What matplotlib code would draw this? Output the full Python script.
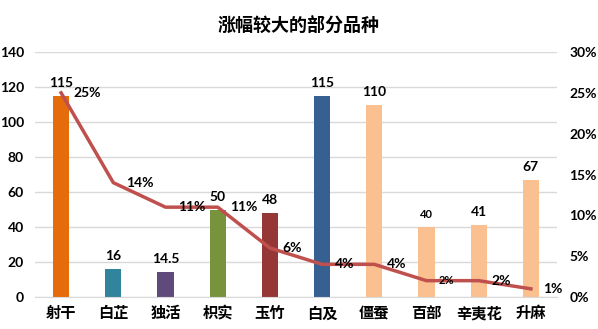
import matplotlib
matplotlib.use("Agg")
import matplotlib.pyplot as plt
from matplotlib.ticker import FuncFormatter

plt.rcParams['font.family'] = ['Noto Sans CJK SC', 'DejaVu Sans']
NUM_FONT = ['Lato', 'DejaVu Sans']

categories = ['射干', '白芷', '独活', '枳实', '玉竹', '白及', '僵蚕', '百部', '辛夷花', '升麻']
prices = [115, 16, 14.5, 50, 48, 115, 110, 40, 41, 67]
price_labels = ['115', '16', '14.5', '50', '48', '115', '110', '40', '41', '67']
growth = [25, 14, 11, 11, 6, 4, 4, 2, 2, 1]
bar_colors = ['#E46C0A', '#31849B', '#604A7B', '#77933C', '#953735', '#366092',
              '#FAC090', '#FAC090', '#FAC090', '#FAC090']
small_label = [False, False, False, False, False, False, False, True, False, False]

fig = plt.figure(figsize=(5.98, 3.29), dpi=100)
ax = fig.add_axes([35/598, 1 - 297/329, 522/598, 245/329])
ax2 = ax.twinx()

x = list(range(len(categories)))
ax.bar(x, prices, width=0.31, color=bar_colors, zorder=2)
ax.set_xlim(-0.5, len(categories) - 0.5)
ax.set_ylim(0, 140)
ax.set_yticks(range(0, 141, 20))
ax.grid(axis='y', color='#D9D9D9', linewidth=1, zorder=0)
ax.set_axisbelow(True)
for s in ['top', 'right', 'left']:
    ax.spines[s].set_visible(False)
ax.spines['bottom'].set_color('#D9D9D9')
ax.tick_params(axis='both', length=0)
ax.set_xticks(x)
ax.set_xticklabels(categories, fontsize=11, fontweight='bold')
ax.tick_params(axis='x', pad=6)
ax.tick_params(axis='y', pad=8)
for lbl in ax.get_yticklabels():
    lbl.set_fontweight('bold')
    lbl.set_fontsize(10)
    lbl.set_family(NUM_FONT)

for xi, v, t, sm in zip(x, prices, price_labels, small_label):
    ax.annotate(t, (xi, v), xytext=(0, 5), textcoords='offset points',
                ha='center', va='bottom', fontsize=8 if sm else 10,
                fontweight='bold', family=NUM_FONT)

ax2.plot(x, growth, color='#C0504D', linewidth=2.5, zorder=3)
ax2.set_ylim(0, 30)
ax2.set_yticks(range(0, 31, 5))
ax2.yaxis.set_major_formatter(FuncFormatter(lambda v, p: f"{int(v)}%"))
for s in ['top', 'right', 'left', 'bottom']:
    ax2.spines[s].set_visible(False)
ax2.tick_params(axis='y', length=0, pad=9)
for lbl in ax2.get_yticklabels():
    lbl.set_fontweight('bold')
    lbl.set_fontsize(10)
    lbl.set_family(NUM_FONT)

for xi, g, sm in zip(x, growth, small_label):
    ax2.annotate(f"{g}%", (xi, g), xytext=(9, 0), textcoords='offset points',
                 ha='left', va='center', fontsize=8 if sm else 10,
                 fontweight='bold', family=NUM_FONT)

fig.text(0.5, 1 - 25/329, '涨幅较大的部分品种', ha='center', va='center',
         fontsize=13, fontweight='bold')

fig.savefig('out.png', dpi=100)
